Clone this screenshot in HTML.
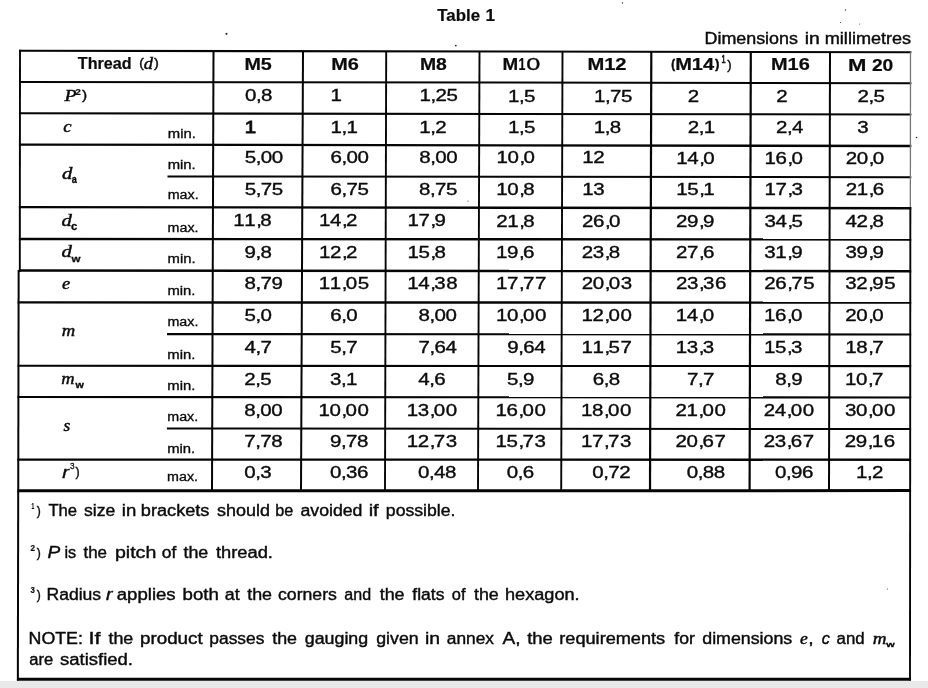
<!DOCTYPE html>
<html lang="en"><head><meta charset="utf-8"><title>Table 1</title>
<style>
html,body{margin:0;padding:0;background:#fff;}
body{width:928px;height:688px;position:relative;overflow:hidden;font-family:"Liberation Sans",sans-serif;color:#111;}
#pg{position:absolute;left:0;top:0;width:928px;height:688px;overflow:hidden;background:#fff;}
#ln{position:absolute;left:0;top:0;}
#tx{position:absolute;left:0;top:0;width:928px;height:688px;will-change:transform;}
#ft{position:absolute;left:0;top:681.3px;width:928px;height:7px;background:#e9e9e9;}
.t,.n{position:absolute;left:0;top:0;white-space:pre;line-height:1;transform-origin:0 0;display:block;color:#0b0b0b;}
.sr{font-family:"Liberation Sans",sans-serif;font-weight:normal;font-style:normal;-webkit-text-stroke:0.4px #0b0b0b;}
.sb{font-family:"Liberation Sans",sans-serif;font-weight:bold;font-style:normal;-webkit-text-stroke:0.2px #0b0b0b;}
.si{font-family:"Liberation Sans",sans-serif;font-weight:normal;font-style:italic;-webkit-text-stroke:0.4px #0b0b0b;}
.ti{font-family:"Liberation Serif",serif;font-weight:normal;font-style:italic;-webkit-text-stroke:0.45px #0b0b0b;}
.tr{font-family:"Liberation Serif",serif;font-weight:normal;font-style:normal;}
.n{font-size:16.0px;font-family:"Liberation Sans",sans-serif;-webkit-text-stroke:0.35px #0b0b0b;}
.n i,.n b{display:inline-block;font-style:normal;font-weight:normal;transform:scaleX(1.28);transform-origin:0 0;}
.n i{width:11.4px;}
.n b{width:4.5px;}
</style></head>
<body><div id="pg">
<svg id="ln" width="928" height="688" viewBox="0 0 928 688" stroke="#050505" fill="none" stroke-linecap="butt">
<line x1="19.05" y1="50.80" x2="911.40" y2="52.20" stroke-width="2.1"/>
<line x1="19.02" y1="81.90" x2="911.37" y2="83.20" stroke-width="2.0"/>
<line x1="18.99" y1="113.30" x2="911.35" y2="114.50" stroke-width="2.1"/>
<line x1="18.96" y1="144.60" x2="911.32" y2="146.00" stroke-width="2.3"/>
<line x1="167.50" y1="176.53" x2="911.30" y2="177.20" stroke-width="2.0"/>
<line x1="18.91" y1="207.10" x2="911.27" y2="208.20" stroke-width="2.35"/>
<line x1="18.88" y1="239.00" x2="911.25" y2="239.50" stroke-width="2.35"/>
<line x1="18.85" y1="270.50" x2="911.22" y2="271.20" stroke-width="2.5"/>
<line x1="17.69" y1="302.40" x2="911.20" y2="302.60" stroke-width="2.35"/>
<line x1="167.00" y1="334.08" x2="911.17" y2="334.50" stroke-width="2.1"/>
<line x1="17.57" y1="365.80" x2="911.15" y2="366.10" stroke-width="2.1"/>
<line x1="17.50" y1="397.00" x2="911.12" y2="397.50" stroke-width="2.1"/>
<line x1="166.90" y1="428.42" x2="911.10" y2="429.00" stroke-width="2.0"/>
<line x1="17.38" y1="459.60" x2="911.07" y2="459.75" stroke-width="2.3"/>
<line x1="17.32" y1="490.80" x2="911.05" y2="490.60" stroke-width="3.0"/>
<line x1="16.95" y1="679.20" x2="910.90" y2="679.20" stroke-width="3.0"/>
<line x1="213.50" y1="51.08" x2="212.00" y2="490.80" stroke-width="2.0"/>
<line x1="303.00" y1="51.21" x2="301.00" y2="490.80" stroke-width="2.0"/>
<line x1="386.20" y1="51.33" x2="385.00" y2="490.80" stroke-width="1.9"/>
<line x1="479.50" y1="51.47" x2="478.00" y2="490.80" stroke-width="1.9"/>
<line x1="562.50" y1="51.59" x2="561.20" y2="490.80" stroke-width="1.9"/>
<line x1="651.30" y1="51.72" x2="650.00" y2="490.80" stroke-width="2.2"/>
<line x1="750.80" y1="51.87" x2="749.60" y2="490.80" stroke-width="2.2"/>
<line x1="830.00" y1="51.98" x2="829.00" y2="490.80" stroke-width="2.0"/>
<line x1="20.0" y1="49.8" x2="19.8" y2="272" stroke-width="1.9"/>
<line x1="18.65" y1="270" x2="17.85" y2="680.6" stroke-width="2.0"/>
<line x1="910.5" y1="51.5" x2="910.35" y2="208" stroke-width="1.3" stroke="#777"/>
<line x1="910.35" y1="207" x2="910.0" y2="680.6" stroke-width="1.9"/>
<circle cx="226.5" cy="33.8" r="1.1" fill="#333" stroke="none"/>
<circle cx="455.8" cy="45.6" r="0.9" fill="#333" stroke="none"/>
<circle cx="622.5" cy="3" r="0.7" fill="#333" stroke="none"/>
<circle cx="845.5" cy="10" r="0.7" fill="#333" stroke="none"/>
<circle cx="840.5" cy="22.5" r="0.6" fill="#333" stroke="none"/>
<circle cx="859.7" cy="24" r="0.5" fill="#333" stroke="none"/>
<circle cx="916.5" cy="137.5" r="0.8" fill="#333" stroke="none"/>
<circle cx="468" cy="201" r="0.6" fill="#333" stroke="none"/>
<circle cx="887.5" cy="589" r="0.5" fill="#333" stroke="none"/>
</svg>
<div id="tx">
<span class="n" style="transform:translate(244.90px,88.25px);"><i>0</i><b>,</b><i>8</i></span>
<span class="n" style="transform:translate(330.60px,88.35px);"><i>1</i></span>
<span class="n" style="transform:translate(419.50px,88.45px);"><i>1</i><b>,</b><i>2</i><i>5</i></span>
<span class="n" style="transform:translate(508.00px,88.55px);"><i>1</i><b>,</b><i>5</i></span>
<span class="n" style="transform:translate(593.99px,88.65px);"><i>1</i><b>,</b><i>7</i><i>5</i></span>
<span class="n" style="transform:translate(687.80px,88.76px);"><i>2</i></span>
<span class="n" style="transform:translate(776.20px,88.86px);"><i>2</i></span>
<span class="n" style="transform:translate(857.40px,88.95px);"><i>2</i><b>,</b><i>5</i></span>
<span class="n" style="transform:translate(244.84px,119.50px);-webkit-text-stroke:0.8px #0b0b0b"><i>1</i></span>
<span class="n" style="transform:translate(330.54px,119.60px);"><i>1</i><b>,</b><i>1</i></span>
<span class="n" style="transform:translate(419.37px,119.70px);"><i>1</i><b>,</b><i>2</i></span>
<span class="n" style="transform:translate(507.90px,119.80px);"><i>1</i><b>,</b><i>5</i></span>
<span class="n" style="transform:translate(593.85px,119.90px);"><i>1</i><b>,</b><i>8</i></span>
<span class="n" style="transform:translate(687.71px,120.01px);"><i>2</i><b>,</b><i>1</i></span>
<span class="n" style="transform:translate(776.10px,120.11px);"><i>2</i><b>,</b><i>4</i></span>
<span class="n" style="transform:translate(857.29px,120.20px);"><i>3</i></span>
<span class="n" style="transform:translate(244.78px,150.00px);"><i>5</i><b>,</b><i>0</i><i>0</i></span>
<span class="n" style="transform:translate(330.48px,150.10px);"><i>6</i><b>,</b><i>0</i><i>0</i></span>
<span class="n" style="transform:translate(419.25px,150.20px);"><i>8</i><b>,</b><i>0</i><i>0</i></span>
<span class="n" style="transform:translate(496.40px,150.30px);"><i>1</i><i>0</i><b>,</b><i>0</i></span>
<span class="n" style="transform:translate(582.30px,150.40px);"><i>1</i><i>2</i></span>
<span class="n" style="transform:translate(676.23px,150.51px);"><i>1</i><i>4</i><b>,</b><i>0</i></span>
<span class="n" style="transform:translate(764.60px,150.61px);"><i>1</i><i>6</i><b>,</b><i>0</i></span>
<span class="n" style="transform:translate(845.78px,150.70px);"><i>2</i><i>0</i><b>,</b><i>0</i></span>
<span class="n" style="transform:translate(244.72px,181.50px);"><i>5</i><b>,</b><i>7</i><i>5</i></span>
<span class="n" style="transform:translate(330.43px,181.60px);"><i>6</i><b>,</b><i>7</i><i>5</i></span>
<span class="n" style="transform:translate(419.12px,181.70px);"><i>8</i><b>,</b><i>7</i><i>5</i></span>
<span class="n" style="transform:translate(496.30px,181.80px);"><i>1</i><i>0</i><b>,</b><i>8</i></span>
<span class="n" style="transform:translate(582.15px,181.90px);"><i>1</i><i>3</i></span>
<span class="n" style="transform:translate(676.15px,182.01px);"><i>1</i><i>5</i><b>,</b><i>1</i></span>
<span class="n" style="transform:translate(764.50px,182.11px);"><i>1</i><i>7</i><b>,</b><i>3</i></span>
<span class="n" style="transform:translate(845.68px,182.20px);"><i>2</i><i>1</i><b>,</b><i>6</i></span>
<span class="n" style="transform:translate(233.27px,213.25px);"><i>1</i><i>1</i><b>,</b><i>8</i></span>
<span class="n" style="transform:translate(318.97px,213.35px);"><i>1</i><i>4</i><b>,</b><i>2</i></span>
<span class="n" style="transform:translate(407.60px,213.45px);"><i>1</i><i>7</i><b>,</b><i>9</i></span>
<span class="n" style="transform:translate(496.20px,213.55px);"><i>2</i><i>1</i><b>,</b><i>8</i></span>
<span class="n" style="transform:translate(582.00px,213.65px);"><i>2</i><i>6</i><b>,</b><i>0</i></span>
<span class="n" style="transform:translate(676.07px,213.76px);"><i>2</i><i>9</i><b>,</b><i>9</i></span>
<span class="n" style="transform:translate(764.40px,213.86px);"><i>3</i><i>4</i><b>,</b><i>5</i></span>
<span class="n" style="transform:translate(845.57px,213.95px);"><i>4</i><i>2</i><b>,</b><i>8</i></span>
<span class="n" style="transform:translate(244.61px,244.50px);"><i>9</i><b>,</b><i>8</i></span>
<span class="n" style="transform:translate(318.91px,244.60px);"><i>1</i><i>2</i><b>,</b><i>2</i></span>
<span class="n" style="transform:translate(407.48px,244.70px);"><i>1</i><i>5</i><b>,</b><i>8</i></span>
<span class="n" style="transform:translate(496.10px,244.80px);"><i>1</i><i>9</i><b>,</b><i>6</i></span>
<span class="n" style="transform:translate(581.85px,244.90px);"><i>2</i><i>3</i><b>,</b><i>8</i></span>
<span class="n" style="transform:translate(675.98px,245.01px);"><i>2</i><i>7</i><b>,</b><i>6</i></span>
<span class="n" style="transform:translate(764.30px,245.11px);"><i>3</i><i>1</i><b>,</b><i>9</i></span>
<span class="n" style="transform:translate(845.46px,245.20px);"><i>3</i><i>9</i><b>,</b><i>9</i></span>
<span class="n" style="transform:translate(244.55px,275.75px);"><i>8</i><b>,</b><i>7</i><i>9</i></span>
<span class="n" style="transform:translate(318.85px,275.85px);"><i>1</i><i>1</i><b>,</b><i>0</i><i>5</i></span>
<span class="n" style="transform:translate(407.35px,275.95px);"><i>1</i><i>4</i><b>,</b><i>3</i><i>8</i></span>
<span class="n" style="transform:translate(496.00px,276.05px);"><i>1</i><i>7</i><b>,</b><i>7</i><i>7</i></span>
<span class="n" style="transform:translate(581.70px,276.15px);"><i>2</i><i>0</i><b>,</b><i>0</i><i>3</i></span>
<span class="n" style="transform:translate(675.90px,276.26px);"><i>2</i><i>3</i><b>,</b><i>3</i><i>6</i></span>
<span class="n" style="transform:translate(764.20px,276.36px);"><i>2</i><i>6</i><b>,</b><i>7</i><i>5</i></span>
<span class="n" style="transform:translate(845.35px,276.45px);"><i>3</i><i>2</i><b>,</b><i>9</i><i>5</i></span>
<span class="n" style="transform:translate(244.49px,307.50px);"><i>5</i><b>,</b><i>0</i></span>
<span class="n" style="transform:translate(330.19px,307.60px);"><i>6</i><b>,</b><i>0</i></span>
<span class="n" style="transform:translate(418.62px,307.70px);"><i>8</i><b>,</b><i>0</i><i>0</i></span>
<span class="n" style="transform:translate(495.90px,307.80px);"><i>1</i><i>0</i><b>,</b><i>0</i><i>0</i></span>
<span class="n" style="transform:translate(581.55px,307.90px);"><i>1</i><i>2</i><b>,</b><i>0</i><i>0</i></span>
<span class="n" style="transform:translate(675.82px,308.01px);"><i>1</i><i>4</i><b>,</b><i>0</i></span>
<span class="n" style="transform:translate(764.10px,308.11px);"><i>1</i><i>6</i><b>,</b><i>0</i></span>
<span class="n" style="transform:translate(845.24px,308.20px);"><i>2</i><i>0</i><b>,</b><i>0</i></span>
<span class="n" style="transform:translate(244.43px,339.50px);"><i>4</i><b>,</b><i>7</i></span>
<span class="n" style="transform:translate(330.13px,339.60px);"><i>5</i><b>,</b><i>7</i></span>
<span class="n" style="transform:translate(418.50px,339.70px);"><i>7</i><b>,</b><i>6</i><i>4</i></span>
<span class="n" style="transform:translate(507.20px,339.80px);"><i>9</i><b>,</b><i>6</i><i>4</i></span>
<span class="n" style="transform:translate(581.40px,339.90px);"><i>1</i><i>1</i><b>,</b><i>5</i><i>7</i></span>
<span class="n" style="transform:translate(675.73px,340.01px);"><i>1</i><i>3</i><b>,</b><i>3</i></span>
<span class="n" style="transform:translate(764.00px,340.11px);"><i>1</i><i>5</i><b>,</b><i>3</i></span>
<span class="n" style="transform:translate(845.13px,340.20px);"><i>1</i><i>8</i><b>,</b><i>7</i></span>
<span class="n" style="transform:translate(244.37px,371.50px);"><i>2</i><b>,</b><i>5</i></span>
<span class="n" style="transform:translate(330.07px,371.60px);"><i>3</i><b>,</b><i>1</i></span>
<span class="n" style="transform:translate(418.37px,371.70px);"><i>4</i><b>,</b><i>6</i></span>
<span class="n" style="transform:translate(507.10px,371.80px);"><i>5</i><b>,</b><i>9</i></span>
<span class="n" style="transform:translate(592.65px,371.90px);"><i>6</i><b>,</b><i>8</i></span>
<span class="n" style="transform:translate(687.05px,372.01px);"><i>7</i><b>,</b><i>7</i></span>
<span class="n" style="transform:translate(775.30px,372.11px);"><i>8</i><b>,</b><i>9</i></span>
<span class="n" style="transform:translate(845.02px,372.20px);"><i>1</i><i>0</i><b>,</b><i>7</i></span>
<span class="n" style="transform:translate(244.32px,402.50px);"><i>8</i><b>,</b><i>0</i><i>0</i></span>
<span class="n" style="transform:translate(318.62px,402.51px);"><i>1</i><i>0</i><b>,</b><i>0</i><i>0</i></span>
<span class="n" style="transform:translate(406.85px,402.53px);"><i>1</i><i>3</i><b>,</b><i>0</i><i>0</i></span>
<span class="n" style="transform:translate(495.60px,402.54px);"><i>1</i><i>6</i><b>,</b><i>0</i><i>0</i></span>
<span class="n" style="transform:translate(581.10px,402.56px);"><i>1</i><i>8</i><b>,</b><i>0</i><i>0</i></span>
<span class="n" style="transform:translate(675.57px,402.57px);"><i>2</i><i>1</i><b>,</b><i>0</i><i>0</i></span>
<span class="n" style="transform:translate(763.80px,402.59px);"><i>2</i><i>4</i><b>,</b><i>0</i><i>0</i></span>
<span class="n" style="transform:translate(844.91px,402.60px);"><i>3</i><i>0</i><b>,</b><i>0</i><i>0</i></span>
<span class="n" style="transform:translate(244.26px,434.00px);"><i>7</i><b>,</b><i>7</i><i>8</i></span>
<span class="n" style="transform:translate(329.96px,434.01px);"><i>9</i><b>,</b><i>7</i><i>8</i></span>
<span class="n" style="transform:translate(406.72px,434.03px);"><i>1</i><i>2</i><b>,</b><i>7</i><i>3</i></span>
<span class="n" style="transform:translate(495.50px,434.04px);"><i>1</i><i>5</i><b>,</b><i>7</i><i>3</i></span>
<span class="n" style="transform:translate(580.95px,434.06px);"><i>1</i><i>7</i><b>,</b><i>7</i><i>3</i></span>
<span class="n" style="transform:translate(675.48px,434.07px);"><i>2</i><i>0</i><b>,</b><i>6</i><i>7</i></span>
<span class="n" style="transform:translate(763.70px,434.09px);"><i>2</i><i>3</i><b>,</b><i>6</i><i>7</i></span>
<span class="n" style="transform:translate(844.81px,434.10px);"><i>2</i><i>9</i><b>,</b><i>1</i><i>6</i></span>
<span class="n" style="transform:translate(244.20px,464.50px);"><i>0</i><b>,</b><i>3</i></span>
<span class="n" style="transform:translate(329.90px,464.51px);"><i>0</i><b>,</b><i>3</i><i>6</i></span>
<span class="n" style="transform:translate(418.00px,464.53px);"><i>0</i><b>,</b><i>4</i><i>8</i></span>
<span class="n" style="transform:translate(506.80px,464.54px);"><i>0</i><b>,</b><i>6</i></span>
<span class="n" style="transform:translate(592.20px,464.56px);"><i>0</i><b>,</b><i>7</i><i>2</i></span>
<span class="n" style="transform:translate(686.80px,464.57px);"><i>0</i><b>,</b><i>8</i><i>8</i></span>
<span class="n" style="transform:translate(775.00px,464.59px);"><i>0</i><b>,</b><i>9</i><i>6</i></span>
<span class="n" style="transform:translate(856.10px,464.60px);"><i>1</i><b>,</b><i>2</i></span>
<span class="t sb" style="font-size:16px;transform:translate(77.82px,56.42px) scaleX(1.0073);">Thread</span>
<span class="t sr" style="font-size:12.4px;transform:translate(139.25px,56.93px) scaleX(1.1007);">(</span>
<span class="t ti" style="font-size:17.5px;transform:translate(143.75px,55.49px) scaleX(1.0522);">d</span>
<span class="t sr" style="font-size:12.4px;transform:translate(153.91px,56.93px) scaleX(1.1564);">)</span>
<span class="t sb" style="font-size:16px;transform:translate(244.42px,56.65px) scaleX(1.2319);">M5</span>
<span class="t sb" style="font-size:16px;transform:translate(331.16px,56.77px) scaleX(1.2403);">M6</span>
<span class="t sb" style="font-size:16px;transform:translate(419.94px,56.90px) scaleX(1.2112);">M8</span>
<span class="t sb" style="font-size:16px;transform:translate(502.48px,57.02px) scaleX(1.1762);">M</span>
<span class="t sb" style="font-size:16px;transform:translate(518.62px,57.02px) scaleX(0.7775);">1</span>
<span class="t sr" style="font-size:16px;transform:translate(526.22px,57.04px) scaleX(1.5796);-webkit-text-stroke:0.3px #0b0b0b;">0</span>
<span class="t sb" style="font-size:16px;transform:translate(587.39px,57.16px) scaleX(1.2585);">M12</span>
<span class="t sb" style="font-size:13.0px;transform:translate(671.13px,57.20px) scaleX(0.8752);-webkit-text-stroke:0.5px #0b0b0b;">(</span>
<span class="t sb" style="font-size:16px;transform:translate(675.15px,57.29px) scaleX(1.2517);">M14</span>
<span class="t sb" style="font-size:13.0px;transform:translate(715.28px,57.20px) scaleX(0.9258);-webkit-text-stroke:0.5px #0b0b0b;">)</span>
<span class="t sr" style="font-size:10.5px;transform:translate(721.43px,53.90px) scaleX(0.7067);-webkit-text-stroke:0.6px #0b0b0b;">1</span>
<span class="t sr" style="font-size:13.4px;transform:translate(727.32px,57.52px) scaleX(0.9856);">)</span>
<span class="t sb" style="font-size:16px;transform:translate(770.90px,57.42px) scaleX(1.2475);">M16</span>
<span class="t sb" style="font-size:16px;transform:translate(848.11px,57.52px) scaleX(1.3775);">M</span>
<span class="t sb" style="font-size:16px;transform:translate(871.93px,57.56px) scaleX(1.2002);">20</span>
<span class="t sb" style="font-size:16px;transform:translate(437.31px,8.20px) scaleX(1.0532);">Table</span>
<span class="t sb" style="font-size:16px;transform:translate(485.53px,8.20px) scaleX(1.0724);">1</span>
<span class="t sr" style="font-size:16px;transform:translate(704.53px,30.75px) scaleX(1.1172);">Dimensions</span>
<span class="t sr" style="font-size:16px;transform:translate(804.69px,30.85px) scaleX(1.2089);">in</span>
<span class="t sr" style="font-size:16px;transform:translate(824.80px,30.95px) scaleX(1.1297);">millimetres</span>
<span class="t sr" style="font-size:12.0px;transform:translate(167.76px,128.00px) scaleX(1.2371);-webkit-text-stroke:0.3px #0b0b0b;">min.</span>
<span class="t sr" style="font-size:12.0px;transform:translate(167.70px,158.60px) scaleX(1.2371);-webkit-text-stroke:0.3px #0b0b0b;">min.</span>
<span class="t sr" style="font-size:12.0px;transform:translate(167.68px,189.40px) scaleX(1.1906);-webkit-text-stroke:0.3px #0b0b0b;">max.</span>
<span class="t sr" style="font-size:12.0px;transform:translate(167.61px,222.00px) scaleX(1.1906);-webkit-text-stroke:0.3px #0b0b0b;">max.</span>
<span class="t sr" style="font-size:12.0px;transform:translate(167.52px,252.50px) scaleX(1.2371);-webkit-text-stroke:0.3px #0b0b0b;">min.</span>
<span class="t sr" style="font-size:12.0px;transform:translate(167.45px,284.50px) scaleX(1.2371);-webkit-text-stroke:0.3px #0b0b0b;">min.</span>
<span class="t sr" style="font-size:12.0px;transform:translate(167.43px,316.00px) scaleX(1.1906);-webkit-text-stroke:0.3px #0b0b0b;">max.</span>
<span class="t sr" style="font-size:12.0px;transform:translate(167.33px,348.50px) scaleX(1.2371);-webkit-text-stroke:0.3px #0b0b0b;">min.</span>
<span class="t sr" style="font-size:12.0px;transform:translate(167.27px,379.50px) scaleX(1.2371);-webkit-text-stroke:0.3px #0b0b0b;">min.</span>
<span class="t sr" style="font-size:12.0px;transform:translate(167.24px,411.20px) scaleX(1.1906);-webkit-text-stroke:0.3px #0b0b0b;">max.</span>
<span class="t sr" style="font-size:12.0px;transform:translate(167.14px,442.50px) scaleX(1.2371);-webkit-text-stroke:0.3px #0b0b0b;">min.</span>
<span class="t sr" style="font-size:12.0px;transform:translate(167.12px,470.50px) scaleX(1.1906);-webkit-text-stroke:0.3px #0b0b0b;">max.</span>
<span class="t ti" style="font-size:17.5px;transform:translate(64.50px,87.25px) scaleX(1.1235);">P</span>
<span class="t sb" style="font-size:8.6px;transform:translate(75.35px,87.60px) scaleX(1.1598);">2</span>
<span class="t sr" style="font-size:12.7px;transform:translate(81.90px,89.26px) scaleX(1.2182);">)</span>
<span class="t ti" style="font-size:17.5px;transform:translate(63.32px,118.10px) scaleX(1.0681);">c</span>
<span class="t ti" style="font-size:17.5px;transform:translate(61.98px,165.20px) scaleX(1.1852);">d</span>
<span class="t sb" style="font-size:10.5px;transform:translate(71.74px,174.40px) scaleX(0.8743);-webkit-text-stroke:0.3px #0b0b0b;">a</span>
<span class="t ti" style="font-size:17.5px;transform:translate(61.58px,212.25px) scaleX(1.1852);">d</span>
<span class="t sb" style="font-size:10.2px;transform:translate(70.96px,221.90px) scaleX(1.1061);-webkit-text-stroke:0.3px #0b0b0b;">c</span>
<span class="t ti" style="font-size:17.5px;transform:translate(61.48px,243.40px) scaleX(1.1852);">d</span>
<span class="t sb" style="font-size:9.6px;transform:translate(71.43px,253.60px) scaleX(1.1981);-webkit-text-stroke:0.3px #0b0b0b;">w</span>
<span class="t ti" style="font-size:17.5px;transform:translate(61.93px,275.00px) scaleX(1.0403);">e</span>
<span class="t ti" style="font-size:17.5px;transform:translate(61.72px,322.40px) scaleX(1.0652);">m</span>
<span class="t ti" style="font-size:17.5px;transform:translate(61.23px,370.20px) scaleX(1.0563);">m</span>
<span class="t sb" style="font-size:8.7px;transform:translate(75.53px,380.70px) scaleX(1.2339);-webkit-text-stroke:0.3px #0b0b0b;">w</span>
<span class="t ti" style="font-size:17.5px;transform:translate(63.38px,417.30px) scaleX(0.9902);">s</span>
<span class="t si" style="font-size:17px;transform:translate(62.27px,463.70px) scaleX(1.1765);">r</span>
<span class="t sr" style="font-size:9.6px;transform:translate(69.88px,461.00px) scaleX(0.8575);-webkit-text-stroke:0.3px #0b0b0b;">3</span>
<span class="t sr" style="font-size:12.5px;transform:translate(75.62px,466.21px) scaleX(0.9962);">)</span>
<span class="t sb" style="font-size:9.6px;transform:translate(31.49px,500.80px) scaleX(0.5139);">1</span>
<span class="t sr" style="font-size:16px;transform:translate(48.38px,503.20px) scaleX(1.0377);">The</span>
<span class="t sr" style="font-size:16px;transform:translate(84.02px,503.20px) scaleX(1.0989);">size</span>
<span class="t sr" style="font-size:16px;transform:translate(121.75px,503.20px) scaleX(1.1605);">in</span>
<span class="t sr" style="font-size:16px;transform:translate(140.82px,503.20px) scaleX(1.1344);">brackets</span>
<span class="t sr" style="font-size:16px;transform:translate(217.01px,503.20px) scaleX(1.1219);">should</span>
<span class="t sr" style="font-size:16px;transform:translate(275.20px,503.20px) scaleX(1.0131);">be</span>
<span class="t sr" style="font-size:16px;transform:translate(300.50px,503.20px) scaleX(1.1046);">avoided</span>
<span class="t sr" style="font-size:16px;transform:translate(368.64px,503.20px) scaleX(1.2608);">if</span>
<span class="t sr" style="font-size:16px;transform:translate(385.86px,503.20px) scaleX(1.1008);">possible.</span>
<span class="t sb" style="font-size:9.6px;transform:translate(30.42px,543.00px) scaleX(0.8442);">2</span>
<span class="t si" style="font-size:16px;transform:translate(47.40px,545.40px) scaleX(1.1905);">P</span>
<span class="t sr" style="font-size:16px;transform:translate(64.41px,545.40px) scaleX(1.0101);">is</span>
<span class="t sr" style="font-size:16px;transform:translate(83.50px,545.40px) scaleX(1.0573);">the</span>
<span class="t sr" style="font-size:16px;transform:translate(114.98px,545.40px) scaleX(1.2216);">pitch</span>
<span class="t sr" style="font-size:16px;transform:translate(161.76px,545.40px) scaleX(1.0844);">of</span>
<span class="t sr" style="font-size:16px;transform:translate(183.48px,545.40px) scaleX(1.1161);">the</span>
<span class="t sr" style="font-size:16px;transform:translate(215.98px,545.40px) scaleX(1.1435);">thread.</span>
<span class="t sb" style="font-size:9.6px;transform:translate(30.52px,585.00px) scaleX(0.8166);">3</span>
<span class="t sr" style="font-size:16px;transform:translate(46.55px,587.40px) scaleX(1.0960);">Radius</span>
<span class="t si" style="font-size:16px;transform:translate(105.94px,587.40px) scaleX(1.2054);">r</span>
<span class="t sr" style="font-size:16px;transform:translate(116.71px,587.40px) scaleX(1.1630);">applies</span>
<span class="t sr" style="font-size:16px;transform:translate(182.54px,587.40px) scaleX(1.1648);">both</span>
<span class="t sr" style="font-size:16px;transform:translate(224.74px,587.40px) scaleX(1.1164);">at</span>
<span class="t sr" style="font-size:16px;transform:translate(247.23px,587.40px) scaleX(1.1161);">the</span>
<span class="t sr" style="font-size:16px;transform:translate(278.00px,587.40px) scaleX(1.1036);">corners</span>
<span class="t sr" style="font-size:16px;transform:translate(344.32px,587.40px) scaleX(1.0008);">and</span>
<span class="t sr" style="font-size:16px;transform:translate(379.73px,587.40px) scaleX(1.1161);">the</span>
<span class="t sr" style="font-size:16px;transform:translate(412.26px,587.40px) scaleX(1.0950);">flats</span>
<span class="t sr" style="font-size:16px;transform:translate(451.80px,587.40px) scaleX(1.0252);">of</span>
<span class="t sr" style="font-size:16px;transform:translate(473.98px,587.40px) scaleX(1.1161);">the</span>
<span class="t sr" style="font-size:16px;transform:translate(505.00px,587.40px) scaleX(1.1338);">hexagon.</span>
<span class="t sr" style="font-size:16px;transform:translate(28.53px,630.60px) scaleX(1.1117);">NOTE:</span>
<span class="t sr" style="font-size:16px;transform:translate(88.51px,630.60px) scaleX(1.3477);">If</span>
<span class="t sr" style="font-size:16px;transform:translate(108.48px,630.60px) scaleX(1.1161);">the</span>
<span class="t sr" style="font-size:16px;transform:translate(140.03px,630.60px) scaleX(1.1734);">product</span>
<span class="t sr" style="font-size:16px;transform:translate(209.37px,630.60px) scaleX(1.0850);">passes</span>
<span class="t sr" style="font-size:16px;transform:translate(272.23px,630.60px) scaleX(1.1161);">the</span>
<span class="t sr" style="font-size:16px;transform:translate(304.74px,630.60px) scaleX(1.1137);">gauging</span>
<span class="t sr" style="font-size:16px;transform:translate(376.25px,630.60px) scaleX(1.1084);">given</span>
<span class="t sr" style="font-size:16px;transform:translate(424.94px,630.60px) scaleX(1.2089);">in</span>
<span class="t sr" style="font-size:16px;transform:translate(446.76px,630.60px) scaleX(1.0821);">annex</span>
<span class="t sr" style="font-size:16px;transform:translate(502.45px,630.60px) scaleX(1.1913);">A,</span>
<span class="t sr" style="font-size:16px;transform:translate(527.22px,630.60px) scaleX(1.1513);">the</span>
<span class="t sr" style="font-size:16px;transform:translate(559.30px,630.60px) scaleX(1.1336);">requirements</span>
<span class="t sr" style="font-size:16px;transform:translate(674.26px,630.60px) scaleX(1.1001);">for</span>
<span class="t sr" style="font-size:16px;transform:translate(702.24px,630.60px) scaleX(1.1110);">dimensions</span>
<span class="t ti" style="font-size:17.5px;transform:translate(799.96px,629.60px) scaleX(0.9963);">e</span>
<span class="t sr" style="font-size:16px;transform:translate(808.25px,630.60px) scaleX(1.2179);">,</span>
<span class="t si" style="font-size:16px;transform:translate(821.77px,630.60px) scaleX(1.0137);">c</span>
<span class="t sr" style="font-size:16px;transform:translate(836.54px,630.60px) scaleX(1.0508);">and</span>
<span class="t ti" style="font-size:17.5px;transform:translate(872.81px,629.60px) scaleX(1.0918);">m</span>
<span class="t sb" style="font-size:7.9px;transform:translate(886.23px,641.20px) scaleX(1.3750);-webkit-text-stroke:0.3px #0b0b0b;">w</span>
<span class="t sr" style="font-size:13.4px;transform:translate(36.72px,504.02px) scaleX(0.9012);">)</span>
<span class="t sr" style="font-size:13.4px;transform:translate(36.72px,546.22px) scaleX(0.9012);">)</span>
<span class="t sr" style="font-size:13.4px;transform:translate(36.72px,588.22px) scaleX(0.9012);">)</span>
<span class="t sr" style="font-size:16px;transform:translate(29.30px,651.50px) scaleX(1.0359);">are</span>
<span class="t sr" style="font-size:16px;transform:translate(59.99px,651.50px) scaleX(1.1553);">satisfied.</span>
</div>
<div id="ft"></div>
</div></body></html>
